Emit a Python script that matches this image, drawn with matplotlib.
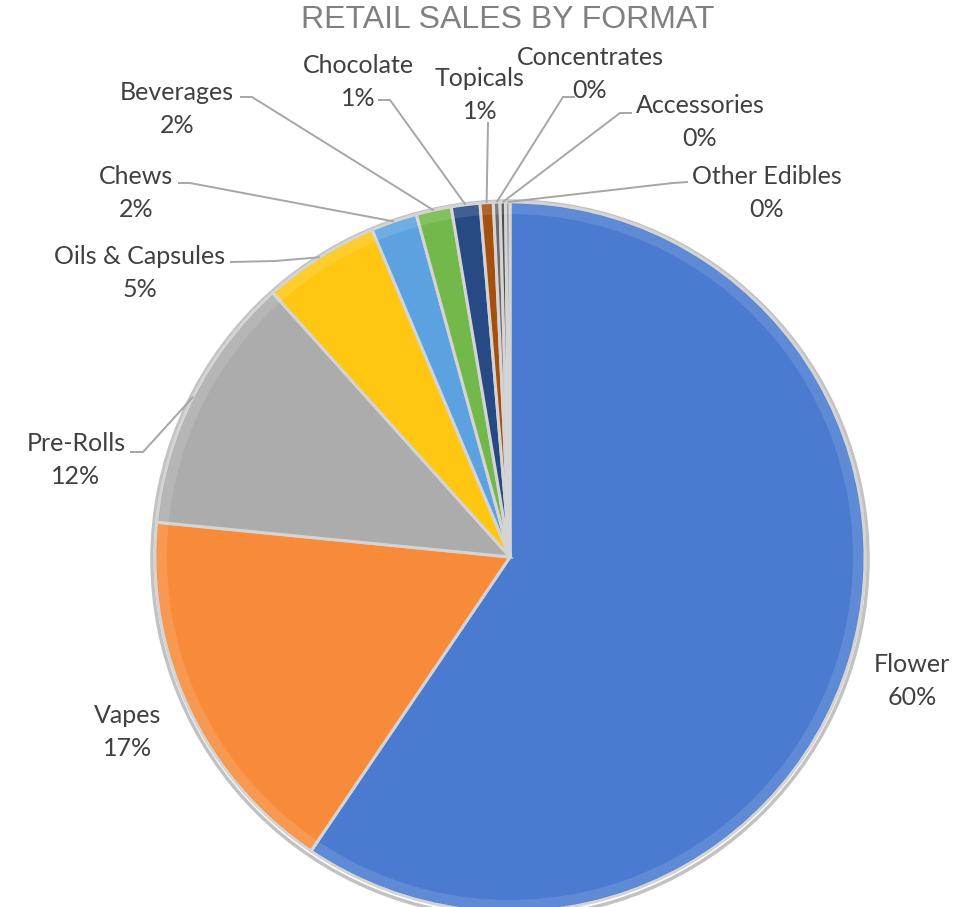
import matplotlib.pyplot as plt
import numpy as np
from matplotlib.patches import Wedge, Circle

# data
formats = ["Flower", "Vapes", "Pre-Rolls", "Oils & Capsules", "Chews", "Beverages",
           "Chocolate", "Topicals", "Concentrates", "Accessories", "Other Edibles"]
share = [59.5, 17.1, 11.8, 5.3, 2.1, 1.6, 1.3, 0.6, 0.3, 0.25, 0.2]
pct_labels = ["60%", "17%", "12%", "5%", "2%", "2%", "1%", "1%", "0%", "0%", "0%"]

colors = ["#4a7bd1", "#f78b3a", "#acacac", "#ffc712", "#5ca2e0", "#72b84a",
          "#274a85", "#a6500f", "#6a6a6a", "#4d4d4d", "#8c8c8c"]

# label block centres (image pixels, y down) and leader-line start points
label_xy = [(912, 681), (128, 732), (76, 460), (140, 273), (136, 193), (177, 109),
            (358, 82), (480, 95), (590, 74), (700, 122), (767, 193)]
leader_start = [None, None, [(130, 452), (143, 452)], [(230, 262), (275, 261)],
                [(178, 183), (190, 183)], [(240, 97), (252, 97)],
                [(378, 100), (390, 100)], [(488, 122), (488, 124)],
                [(575, 97), (563, 97)], [(632, 113), (620, 113)],
                [(688, 182), (673, 183)]]

W, H = 976, 907
fig = plt.figure(figsize=(W / 100, H / 100), dpi=100)
ax = fig.add_axes([0, 0, 1, 1])

cx, cy, r = 510, H - 557, 355

# soft outer shadow ring
ax.add_patch(Circle((cx, cy - 2), r + 3, facecolor="none", edgecolor="#9a9a9a", lw=2.5, alpha=0.6))

wedges, _ = ax.pie(share, colors=colors, startangle=90, counterclock=False,
                   center=(cx, cy), radius=r, frame=True,
                   wedgeprops=dict(edgecolor="#d4d4d4", linewidth=2.2))
ax.set_xlim(0, W)
ax.set_ylim(0, H)
ax.set_aspect("equal")
ax.axis("off")

# bevel highlight near the rim
for w in wedges:
    ax.add_patch(Wedge((cx, cy), r - 2, w.theta1, w.theta2, width=10,
                       facecolor="white", alpha=0.12, edgecolor="none"))

lab_font = dict(family=["Lato", "DejaVu Sans"], fontsize=18, color="#404040")
for i, w in enumerate(wedges):
    lx, ly = label_xy[i]
    ax.text(lx, H - ly + 16.5, formats[i], ha="center", va="center", **lab_font)
    ax.text(lx, H - ly - 16.5, pct_labels[i], ha="center", va="center", **lab_font)
    if leader_start[i] is not None:
        mid = np.deg2rad((w.theta1 + w.theta2) / 2)
        ex, ey = cx + r * np.cos(mid), cy + r * np.sin(mid)
        (x0, y0), (x1, y1) = leader_start[i]
        ax.plot([x0, x1, ex], [H - y0, H - y1, ey], color="#a6a6a6", lw=1.4,
                solid_capstyle="butt", zorder=1)

ax.text(508, H - 20, "RETAIL SALES BY FORMAT", ha="center", va="center",
        family=["Liberation Sans", "DejaVu Sans"], fontsize=23, color="#808080")

fig.savefig("out.png", dpi=100)
